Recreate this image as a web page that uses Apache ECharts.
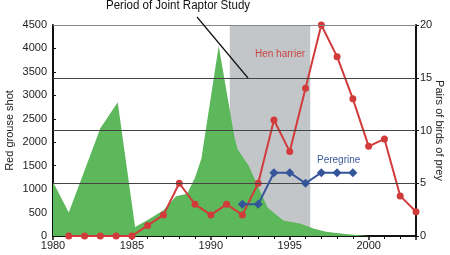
<!DOCTYPE html>
<html><head><meta charset="utf-8">
<script src="https://cdn.jsdelivr.net/npm/echarts@6/dist/echarts.min.js"></script>
<style>html,body{margin:0;padding:0;background:#fff}#c{width:450px;height:255px}</style>
</head><body><div id="c"></div>
<script>
// Red grouse shot (green area): [year, birds shot]
var grouseShot = [[1980,1150],[1981,500],[1983,2300],[1984.1,2850],[1985.2,190],[1986,340],[1987,550],[1987.8,850],[1988.5,900],[1989,1250],[1989.4,1650],[1990.5,4050],[1991.5,2100],[1991.7,1850],[1992.4,1500],[1993,1050],[1993.6,600],[1994.6,330],[1995.7,260],[1996.5,160],[1997.3,90],[1998.5,45],[2000,0],[2003,0]];
// Hen harrier pairs
var harrierYears = [1981,1982,1983,1984,1985,1986,1987,1988,1989,1990,1991,1992,1993,1994,1995,1996,1997,1998,1999,2000,2001,2002,2003];
var harrierPairs = [0,0,0,0,0,1,2,5,3,2,3,2,5,11,8,14,20,17,13,8.5,9.2,3.8,2.3];
// Peregrine pairs
var peregrineYears = [1992,1993,1994,1995,1996,1997,1998,1999];
var peregrinePairs = [3,3,6,6,5,6,6,6];
// Joint Raptor Study period
var studyPeriod = [1991.2, 1996.3];
var gridPairs = [5,10,15];

var font = 'Liberation Sans, Arial, sans-serif';
var plain = function(v){return String(v);};
var chart = echarts.init(document.getElementById('c'), null, {renderer:'canvas'});
chart.setOption({
  animation:false,
  grid:{left:53,right:34,top:25,bottom:19,outerBoundsMode:'none',containLabel:false},
  xAxis:{type:'value',min:1980,max:2003,interval:5,
    axisLine:{lineStyle:{color:'#111',width:2}},
    axisTick:{show:true,length:4,lineStyle:{color:'#111',width:1.5}},
    minorTick:{show:true,splitNumber:5,length:3,lineStyle:{color:'#111'}},
    splitLine:{show:false},
    axisLabel:{color:'#222',fontFamily:font,fontSize:11,margin:4,showMaxLabel:false,formatter:plain}},
  yAxis:[
    {type:'value',min:0,max:4500,interval:500,name:'Red grouse shot',nameLocation:'middle',nameGap:38,nameMoveOverlap:false,
     nameTextStyle:{color:'#222',fontFamily:font,fontSize:11},
     axisLine:{show:true,lineStyle:{color:'#111',width:2}},
     axisTick:{show:true,inside:true,length:3,lineStyle:{color:'#111'}},
     splitLine:{show:false},
     axisLabel:{color:'#222',fontFamily:font,fontSize:11,margin:6,formatter:plain}},
    {type:'value',min:0,max:20,interval:5,position:'right',name:'Pairs of birds of prey',nameLocation:'middle',nameGap:18,nameRotate:-90,nameMoveOverlap:false,
     nameTextStyle:{color:'#222',fontFamily:font,fontSize:11},
     axisLine:{show:true,lineStyle:{color:'#111',width:2}},
     axisTick:{show:true,length:3,lineStyle:{color:'#111'}},
     splitLine:{show:false},
     axisLabel:{color:'#222',fontFamily:font,fontSize:11,margin:4,formatter:plain}}
  ],
  series:[
    {type:'line',data:[],z:1,silent:true,
     markArea:{silent:true,itemStyle:{color:'#c3c6c9'},data:[[{xAxis:studyPeriod[0]},{xAxis:studyPeriod[1]}]]}},
    {type:'line',yAxisIndex:0,data:grouseShot,z:2,symbol:'none',smooth:false,
     lineStyle:{width:0},areaStyle:{color:'#5cb85a',opacity:1}},
    {type:'line',yAxisIndex:1,data:[],z:3,silent:true,
     markLine:{silent:true,symbol:'none',label:{show:false},lineStyle:{color:'#444',width:1,type:'solid'},
       data:gridPairs.map(function(v){return {yAxis:v};}).concat([{yAxis:20,lineStyle:{color:'#888'}}])}},
    {type:'line',yAxisIndex:1,data:harrierYears.map(function(y,i){return [y,harrierPairs[i]];}),z:4,
     symbol:'circle',symbolSize:7,lineStyle:{color:'#d13b3b',width:2},itemStyle:{color:'#d13b3b'}},
    {type:'line',yAxisIndex:1,data:peregrineYears.map(function(y,i){return [y,peregrinePairs[i]];}),z:5,
     symbol:'diamond',symbolSize:9,lineStyle:{color:'#34559a',width:2},itemStyle:{color:'#34559a'}}
  ],
  graphic:[
    {type:'text',x:106,y:0,scaleX:0.96,style:{text:'Period of Joint Raptor Study',fill:'#111',font:'12px '+font},z:10},
    {type:'line',shape:{x1:197,y1:17,x2:248,y2:78},style:{stroke:'#111',lineWidth:1.2},z:10},
    {type:'text',x:255,y:49,style:{text:'Hen harrier',fill:'#cc4444',font:'10px '+font},z:10},
    {type:'text',x:317,y:155,style:{text:'Peregrine',fill:'#3b5a98',font:'10px '+font},z:10}
  ]
});
</script></body></html>
